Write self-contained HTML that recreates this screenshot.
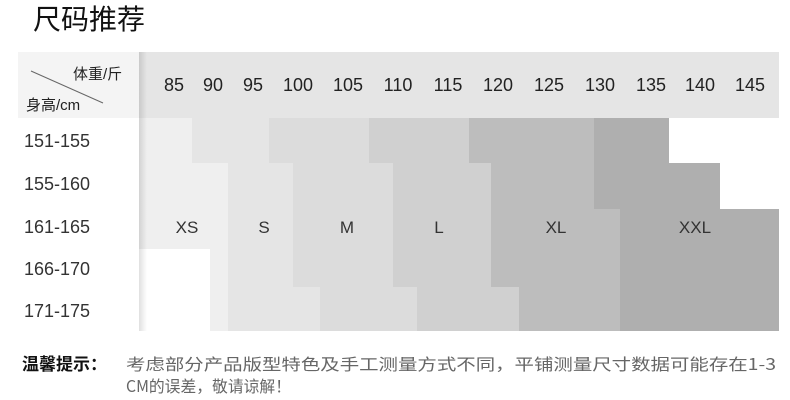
<!DOCTYPE html>
<html><head><meta charset="utf-8"><style>
body{margin:0;background:#fff;width:790px;height:400px;overflow:hidden}
svg{display:block}
text{font-family:"Liberation Sans","Noto Sans CJK SC",sans-serif}
</style></head><body>
<svg width="790" height="400" xmlns="http://www.w3.org/2000/svg">
<defs><linearGradient id="sh" x1="0" x2="1"><stop offset="0" stop-color="#000" stop-opacity="0.12"/><stop offset="1" stop-color="#000" stop-opacity="0"/></linearGradient></defs>
<text x="33" y="29" font-size="28" fill="#111" style="font-family:'Noto Sans CJK SC',sans-serif">尺码推荐</text>
<rect x="18" y="52" width="121" height="66" fill="#f4f4f4"/>
<rect x="139" y="52" width="640" height="66" fill="#e5e5e5"/>
<line x1="31" y1="71" x2="103" y2="103" stroke="#666" stroke-width="1"/>
<text x="73" y="79" font-size="15" fill="#222">体重/斤</text>
<text x="26" y="110" font-size="15" fill="#222">身高/cm</text>
<g font-size="18" fill="#222" text-anchor="middle">
<text x="174" y="91">85</text><text x="213" y="91">90</text><text x="253" y="91">95</text><text x="298" y="91">100</text><text x="348" y="91">105</text><text x="398" y="91">110</text><text x="448" y="91">115</text><text x="498" y="91">120</text><text x="549" y="91">125</text><text x="600" y="91">130</text><text x="651" y="91">135</text><text x="700" y="91">140</text><text x="750" y="91">145</text>
</g>
<rect x="139" y="118" width="53" height="45" fill="#efefef"/>
<rect x="192" y="118" width="77" height="45" fill="#e5e5e5"/>
<rect x="269" y="118" width="100" height="45" fill="#dcdcdc"/>
<rect x="369" y="118" width="100" height="45" fill="#d0d0d0"/>
<rect x="469" y="118" width="125" height="45" fill="#bdbdbd"/>
<rect x="594" y="118" width="75" height="45" fill="#afafaf"/>
<rect x="139" y="163" width="89" height="46" fill="#efefef"/>
<rect x="228" y="163" width="65" height="46" fill="#e5e5e5"/>
<rect x="293" y="163" width="100" height="46" fill="#dcdcdc"/>
<rect x="393" y="163" width="98" height="46" fill="#d0d0d0"/>
<rect x="491" y="163" width="103" height="46" fill="#bdbdbd"/>
<rect x="594" y="163" width="126" height="46" fill="#afafaf"/>
<rect x="139" y="209" width="89" height="40" fill="#efefef"/>
<rect x="228" y="209" width="65" height="40" fill="#e5e5e5"/>
<rect x="293" y="209" width="100" height="40" fill="#dcdcdc"/>
<rect x="393" y="209" width="98" height="40" fill="#d0d0d0"/>
<rect x="491" y="209" width="129" height="40" fill="#bdbdbd"/>
<rect x="620" y="209" width="159" height="40" fill="#afafaf"/>
<rect x="210" y="249" width="18" height="38" fill="#efefef"/>
<rect x="228" y="249" width="65" height="38" fill="#e5e5e5"/>
<rect x="293" y="249" width="100" height="38" fill="#dcdcdc"/>
<rect x="393" y="249" width="98" height="38" fill="#d0d0d0"/>
<rect x="491" y="249" width="129" height="38" fill="#bdbdbd"/>
<rect x="620" y="249" width="159" height="38" fill="#afafaf"/>
<rect x="210" y="287" width="18" height="44" fill="#efefef"/>
<rect x="228" y="287" width="92" height="44" fill="#e5e5e5"/>
<rect x="320" y="287" width="97" height="44" fill="#dcdcdc"/>
<rect x="417" y="287" width="102" height="44" fill="#d0d0d0"/>
<rect x="519" y="287" width="101" height="44" fill="#bdbdbd"/>
<rect x="620" y="287" width="159" height="44" fill="#afafaf"/>
<rect x="139" y="52" width="8" height="279" fill="url(#sh)"/>
<g font-size="17" fill="#333" text-anchor="middle">
<text x="187" y="233">XS</text><text x="264" y="233">S</text><text x="347" y="233">M</text><text x="439" y="233">L</text><text x="556" y="233">XL</text><text x="695" y="233">XXL</text>
</g>
<g font-size="18" fill="#333">
<text x="24" y="147">151-155</text><text x="24" y="190">155-160</text><text x="24" y="233">161-165</text><text x="24" y="275">166-170</text><text x="24" y="317">171-175</text>
</g>
<text x="22" y="370" font-size="17" font-weight="bold" fill="#111" style="font-family:'Noto Sans CJK SC',sans-serif">温馨提示：</text>
<text x="126" y="370" font-size="16" fill="#666" textLength="650" lengthAdjust="spacingAndGlyphs" style="font-family:'Noto Sans CJK SC',sans-serif">考虑部分产品版型特色及手工测量方式不同，平铺测量尺寸数据可能存在1-3</text>
<text x="126" y="392" font-size="16" fill="#666" textLength="165" lengthAdjust="spacingAndGlyphs" style="font-family:'Noto Sans CJK SC',sans-serif">CM的误差，敬请谅解！</text>
</svg>
</body></html>
